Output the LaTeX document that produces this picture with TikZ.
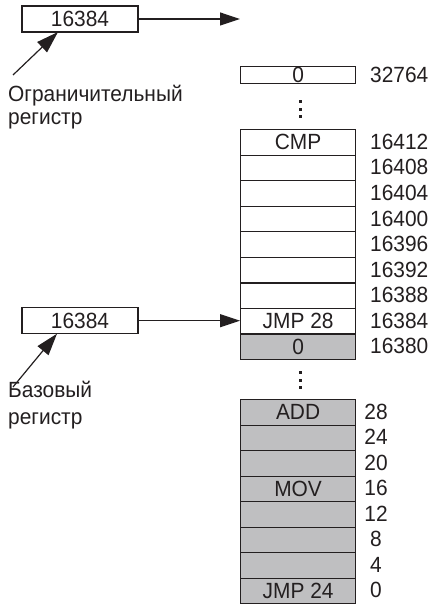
\documentclass[tikz,border=0pt]{standalone}
\usepackage{fontspec}
\setmainfont{Liberation Sans}[FakeStretch=0.95]
\usetikzlibrary{arrows.meta,calc}
\definecolor{memgray}{RGB}{191,191,193}
\definecolor{ink}{RGB}{35,31,32}
\begin{document}
\begin{tikzpicture}[x=1pt,y=-1pt,
  every node/.style={font=\fontsize{22}{26}\selectfont, inner sep=0pt, text=ink},
  cell/.style={draw=ink, line width=1.2pt, minimum width=115pt, minimum height=25.56pt, anchor=north west},
  lowcell/.style={cell, minimum height=25.5pt, fill=memgray},
  regbox/.style={draw=ink, line width=1.2pt, minimum width=116pt, minimum height=26pt},
  addr/.style={anchor=west},
  lowaddr/.style={anchor=center},
  txt/.style={anchor=base west},
  arr/.style={draw=ink, line width=1.2pt, -{Triangle[length=20pt,width=13pt]}},
  ptr/.style={draw=ink, line width=1.2pt, -{Triangle[length=22pt,width=14pt]}},
  dotmark/.style={fill=ink}
]
\useasboundingbox (0,0) rectangle (429,604);

% limit register
\node[regbox] (limbox) at (80,19) {16384};
\coordinate (limend) at (240,19);
\draw[arr] (limbox.east) -- (limend);
\node[txt] (lim1) at (8,102) {Ограничительный};
\node[txt] (lim2) at (8,125) {регистр};
\coordinate (limtail) at (13,75);
\coordinate (limtip) at (58,32);
\draw[ptr] (limtail) -- (limtip);

% top memory word
\node[cell, minimum height=17pt] (top) at (240,66) {0};
\node[addr] (topa) at (370,74.5) {32764};
\foreach \y in {102,109.5,117} \fill[dotmark] (299.2,\y-1.5) rectangle ++(3,3);

% upper block
\foreach \t/\l [count=\i from 0] in {CMP/16412,/16408,/16404,/16400,/16396,/16392,/16388,JMP 28/16384}{
  \node[cell] (u\i) at (240,129+\i*25.56) {\t};
  \node[addr] (ua\i) at (370,129+\i*25.56+12.78) {\l};
}
\node[cell, fill=memgray] (u8) at (240,129+8*25.56) {0};
\node[addr] (ua8) at (370,129+8*25.56+12.78) {16380};

% base register
\node[regbox] (basebox) at (80,320.7) {16384};
\draw[arr] (basebox.east) -- (basebox.east -| u7.west);
\node[txt] (base1) at (8,397) {Базовый};
\node[txt] (base2) at (8,424) {регистр};
\coordinate (basetail) at (13,387);
\coordinate (basetip) at (57,333.7);
\draw[ptr] (basetail) -- (basetip);

\foreach \y in {372.5,380,387.5} \fill[dotmark] (299.2,\y-1.5) rectangle ++(3,3);

% lower block
\foreach \t/\l [count=\i from 0] in {ADD/28,/24,/20,MOV/16,/12,/8,/4,JMP 24/0}{
  \node[lowcell] (l\i) at (240,399+\i*25.5) {\t};
  \node[lowaddr] (la\i) at (376,399+\i*25.5+12.75) {\l};
}
\end{tikzpicture}
\end{document}
